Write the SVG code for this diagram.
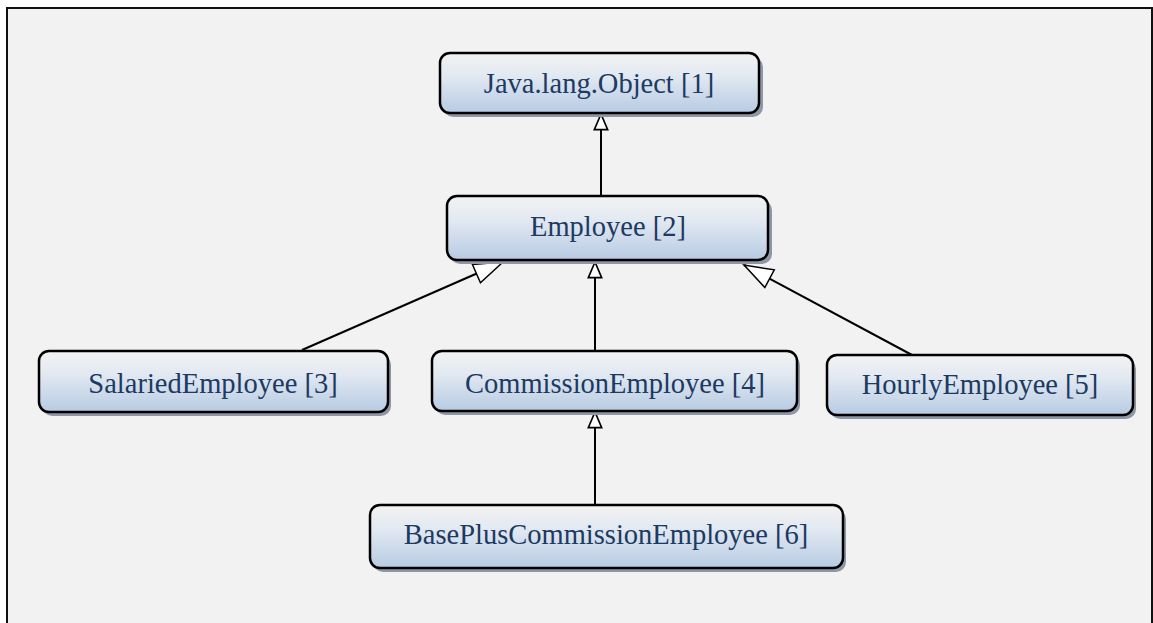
<svg xmlns="http://www.w3.org/2000/svg" width="1153" height="623" viewBox="0 0 1153 623">
<defs>
<linearGradient id="g" x1="0" y1="0" x2="0" y2="1">
<stop offset="0" stop-color="#f2f2f2"/>
<stop offset="0.35" stop-color="#e4eaf2"/>
<stop offset="1" stop-color="#b7cbe3"/>
</linearGradient>
<marker id="sm" markerUnits="userSpaceOnUse" markerWidth="20" markerHeight="20" viewBox="-16 -8 18 16" refX="0" refY="0" orient="auto">
<path d="M0,0 L-14,-6 L-14,6 Z" fill="#fff" stroke="#000" stroke-width="1.5"/>
</marker>
<marker id="lg" markerUnits="userSpaceOnUse" markerWidth="36" markerHeight="26" viewBox="-32 -13 34 26" refX="0" refY="0" orient="auto">
<path d="M0,0 L-29,-10 L-29,10 Z" fill="#fff" stroke="#000" stroke-width="1.5"/>
</marker>
</defs>
<style>
.sh{fill:#8d97a6;}
.bx{fill:url(#g);stroke:#000;stroke-width:2.5;}
.t{font-size:28.5px;fill:#1c3a62;text-anchor:middle;}
.c{stroke:#000;stroke-width:2;fill:none;}
</style>
<rect x="0" y="0" width="1153" height="623" fill="#fff"/>
<rect x="7" y="8" width="1145" height="700" fill="#f2f2f2" stroke="#111" stroke-width="2"/>
<g id="connectors">
<line class="c" x1="601" y1="196" x2="601" y2="114" marker-end="url(#sm)"/>
<line class="c" x1="302" y1="350" x2="503" y2="262" marker-end="url(#lg)"/>
<line class="c" x1="595" y1="351" x2="595" y2="262" marker-end="url(#sm)"/>
<line class="c" x1="912" y1="355" x2="744" y2="265" marker-end="url(#lg)"/>
<line class="c" x1="595" y1="505" x2="595" y2="412" marker-end="url(#sm)"/>
</g>
<g font-family="'Liberation Serif', 'Times New Roman', serif">
<g id="n1">
<rect class="sh" x="443" y="57" width="320" height="60" rx="10"/>
<rect class="bx" x="440" y="53" width="319" height="60" rx="10"/>
<text class="t" x="599" y="93">Java.lang.Object [1]</text>
</g>
<g id="n2">
<rect class="sh" x="450" y="200" width="322" height="64" rx="10"/>
<rect class="bx" x="447" y="196" width="321" height="64" rx="10"/>
<text class="t" x="608" y="236">Employee [2]</text>
</g>
<g id="n3">
<rect class="sh" x="42" y="355" width="349" height="61" rx="10"/>
<rect class="bx" x="39" y="351" width="349" height="61" rx="10"/>
<text class="t" x="213" y="393">SalariedEmployee [3]</text>
</g>
<g id="n4">
<rect class="sh" x="435" y="355" width="365" height="60" rx="10"/>
<rect class="bx" x="432" y="351" width="365" height="60" rx="10"/>
<text class="t" x="615" y="393">CommissionEmployee [4]</text>
</g>
<g id="n5">
<rect class="sh" x="830" y="359" width="306" height="60" rx="10"/>
<rect class="bx" x="827" y="355" width="306" height="60" rx="10"/>
<text class="t" x="980" y="394">HourlyEmployee [5]</text>
</g>
<g id="n6">
<rect class="sh" x="373" y="509" width="473" height="63" rx="10"/>
<rect class="bx" x="370" y="505" width="473" height="63" rx="10"/>
<text class="t" x="606" y="544">BasePlusCommissionEmployee [6]</text>
</g>
</g>
</svg>
